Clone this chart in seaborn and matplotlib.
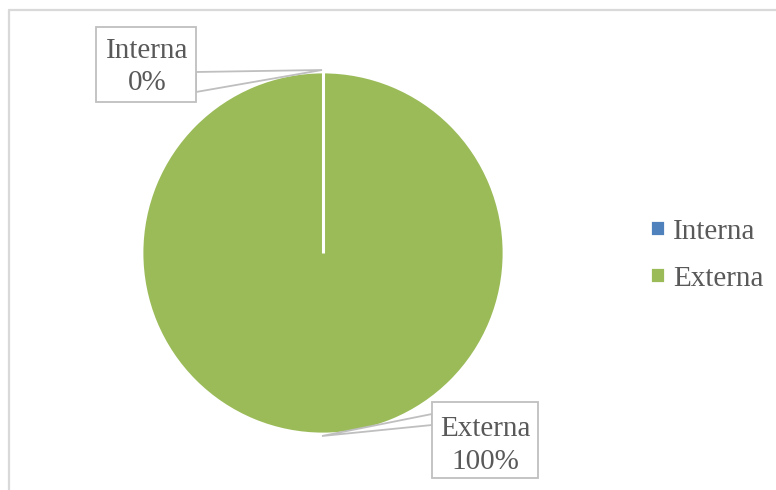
import matplotlib
matplotlib.use("Agg")
import numpy as np
import matplotlib.pyplot as plt
from matplotlib.patches import Polygon, Rectangle
from matplotlib.lines import Line2D
import seaborn as sns

categories = ["Interna", "Externa"]
values = [0, 100]
pct_labels = ["0%", "100%"]
colors = ["#4F81BD", "#9BBB59"]

sns.set_theme(style="white")
plt.rcParams["font.family"] = ["Liberation Serif", "DejaVu Serif"]

W, H = 776, 490
fig = plt.figure(figsize=(W / 100, H / 100), dpi=100)
fig.patch.set_facecolor("white")

def fx(px):
    return px / W

def fy(py):
    return 1 - py / H

# outer chart border (top and left visible)
fig.add_artist(Line2D([fx(9), fx(776)], [fy(10), fy(10)], color="#D9D9D9", lw=1.6, transform=fig.transFigure))
fig.add_artist(Line2D([fx(9), fx(9)], [fy(10), fy(490)], color="#D9D9D9", lw=1.6, transform=fig.transFigure))

cx, cy, r = 323, 253, 181
start = 90
ax = fig.add_axes([fx(cx - r), fy(cy + r), 2 * r / W, 2 * r / H])
wedges, _ = ax.pie(values, colors=colors, startangle=start, counterclock=False,
                   wedgeprops=dict(edgecolor="white", linewidth=2))
# slice boundary (zero-size slice) drawn as white radial line
th = np.deg2rad(start)
ax.plot([0, np.cos(th)], [0, np.sin(th)], color="white", lw=2.2, solid_capstyle="butt")
ax.set_xlim(-1, 1)
ax.set_ylim(-1, 1)
ax.set_aspect("auto")
ax.axis("off")

txt_color = "#595959"
fs = 21
box_col = "#BFBFBF"

# Callout for Interna
fig.add_artist(Polygon([(fx(196), fy(72)), (fx(322), fy(70)), (fx(196), fy(92))], closed=True,
                       facecolor="white", edgecolor=box_col, lw=1.3, transform=fig.transFigure))
fig.add_artist(Rectangle((fx(96), fy(102)), fx(196) - fx(96), fy(27) - fy(102),
                         facecolor="white", edgecolor=box_col, lw=1.3, transform=fig.transFigure))
fig.text(fx(147), fy(67), f"{categories[0]}\n{pct_labels[0]}", ha="center", va="center",
         fontsize=fs, color=txt_color, linespacing=1.35)

# Callout for Externa
fig.add_artist(Polygon([(fx(432), fy(414)), (fx(322), fy(436)), (fx(432), fy(425))], closed=True,
                       facecolor="white", edgecolor=box_col, lw=1.3, transform=fig.transFigure))
fig.add_artist(Rectangle((fx(432), fy(478)), fx(538) - fx(432), fy(402) - fy(478),
                         facecolor="white", edgecolor=box_col, lw=1.3, transform=fig.transFigure))
fig.text(fx(485), fy(445), f"{categories[1]}\n{pct_labels[1]}", ha="center", va="center",
         fontsize=fs, color=txt_color, linespacing=1.35)

# Legend
leg = fig.legend(wedges, categories, loc="center left", bbox_to_anchor=(fx(650), fy(255)),
                 frameon=False, fontsize=fs, handlelength=0.5, handleheight=0.5,
                 handletextpad=0.3, labelspacing=0.72, borderaxespad=0, borderpad=0)
for t in leg.get_texts():
    t.set_color(txt_color)

fig.savefig("out.png", dpi=100, facecolor="white")
